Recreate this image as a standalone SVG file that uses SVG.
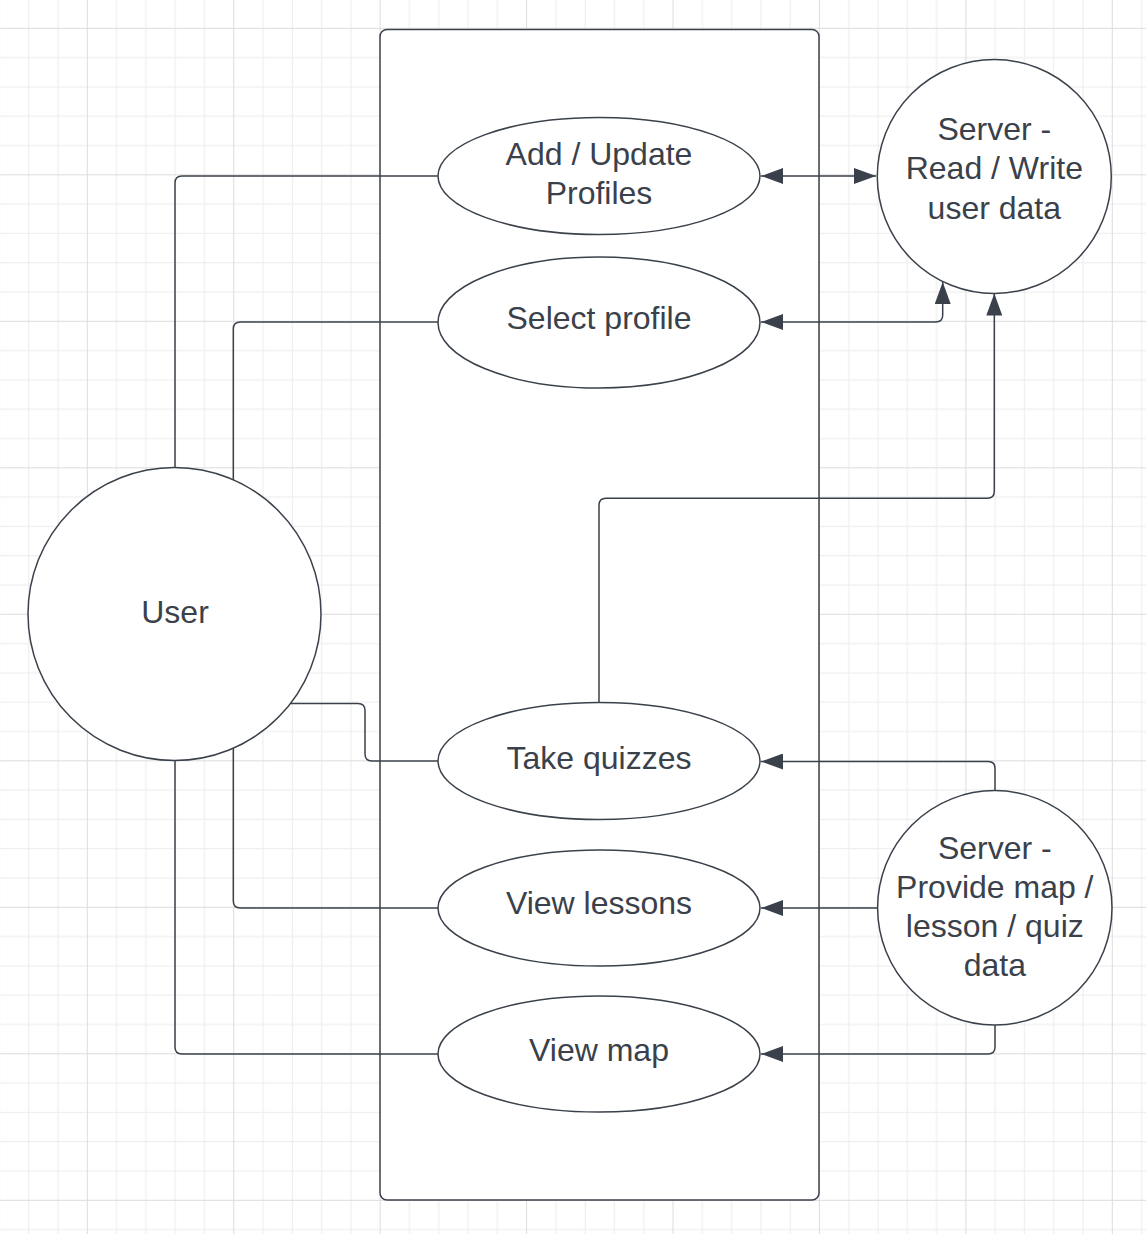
<svg xmlns="http://www.w3.org/2000/svg" width="1146" height="1234" viewBox="0 0 1146 1234">
<defs>
<pattern id="grid" patternUnits="userSpaceOnUse" x="86.8" y="27.8" width="146.43" height="146.5">
<rect x="29.29" y="0" width="1" height="146.5" fill="#ececec"/>
<rect x="58.57" y="0" width="1" height="146.5" fill="#ececec"/>
<rect x="87.86" y="0" width="1" height="146.5" fill="#ececec"/>
<rect x="117.14" y="0" width="1" height="146.5" fill="#ececec"/>
<rect x="0" y="29.3" width="146.43" height="1" fill="#ececec"/>
<rect x="0" y="58.6" width="146.43" height="1" fill="#ececec"/>
<rect x="0" y="87.9" width="146.43" height="1" fill="#ececec"/>
<rect x="0" y="117.2" width="146.43" height="1" fill="#ececec"/>
<rect x="0" y="0" width="1" height="146.5" fill="#dcdcdc"/>
<rect x="0" y="0" width="146.43" height="1" fill="#dcdcdc"/>
</pattern>
<marker id="arr" viewBox="0 0 22 16" refX="22" refY="8" markerWidth="22" markerHeight="16" markerUnits="userSpaceOnUse" orient="auto-start-reverse">
<path d="M0,0 L22,8 L0,16 z" fill="#3a414a"/>
</marker>
<style>
.shape{fill:#ffffff;stroke:#3a414a;stroke-width:1.5}
.conn{fill:none;stroke:#3a414a;stroke-width:1.5}
.lbl{font-family:"Liberation Sans",Arial,sans-serif;font-size:32px;fill:#3a414a;text-anchor:middle}
</style>
</defs>
<rect x="0" y="0" width="1146" height="1234" fill="#ffffff"/>
<rect x="0" y="0" width="1146" height="1234" fill="url(#grid)"/>

<g id="system-boundary">
<rect class="shape" x="380" y="29.5" width="439" height="1170.5" rx="7" ry="7" stroke-width="1.7"/>
</g>

<g id="connectors">
<path class="conn" d="M175,468 L175,183 Q175,176 182,176 L438,176"/>
<path class="conn" d="M233.3,480 L233.3,329 Q233.3,322 240.3,322 L438,322"/>
<path class="conn" d="M290.6,703.5 L358,703.5 Q365,703.5 365,710.5 L365,754 Q365,761 372,761 L438,761"/>
<path class="conn" d="M233.3,748.5 L233.3,901 Q233.3,908 240.3,908 L438,908"/>
<path class="conn" d="M175,760.5 L175,1047 Q175,1054 182,1054 L438,1054"/>
<path class="conn" d="M761,176 L876,176" marker-start="url(#arr)" marker-end="url(#arr)"/>
<path class="conn" d="M761,322 L935.7,322 Q942.7,322 942.7,315 L942.7,282" marker-start="url(#arr)" marker-end="url(#arr)"/>
<path class="conn" d="M599,702.5 L599,505.3 Q599,498.3 606,498.3 L987.3,498.3 Q994.3,498.3 994.3,491.3 L994.3,293.5" marker-end="url(#arr)"/>
<path class="conn" d="M995,790.5 L995,768.5 Q995,761.5 988,761.5 L761,761.5" marker-end="url(#arr)"/>
<path class="conn" d="M877.3,908 L761,908" marker-end="url(#arr)"/>
<path class="conn" d="M995,1025 L995,1047 Q995,1054 988,1054 L761,1054" marker-end="url(#arr)"/>
</g>

<g id="user">
<circle class="shape" cx="174.5" cy="614" r="146.5"/>
<text class="lbl" x="175" y="622.5">User</text>
</g>

<g id="add-update-profiles">
<ellipse class="shape" cx="599" cy="176" rx="161" ry="58.5"/>
<text class="lbl" x="599" y="164.5">Add / Update</text>
<text class="lbl" x="599" y="203.5">Profiles</text>
</g>

<g id="select-profile">
<ellipse class="shape" cx="599" cy="322.5" rx="161" ry="65.5"/>
<text class="lbl" x="599" y="328.5">Select profile</text>
</g>

<g id="take-quizzes">
<ellipse class="shape" cx="599" cy="761" rx="161" ry="58.5"/>
<text class="lbl" x="599" y="768.5">Take quizzes</text>
</g>

<g id="view-lessons">
<ellipse class="shape" cx="599" cy="908" rx="161" ry="58"/>
<text class="lbl" x="599" y="914">View lessons</text>
</g>

<g id="view-map">
<ellipse class="shape" cx="599" cy="1054" rx="161" ry="58"/>
<text class="lbl" x="599" y="1061">View map</text>
</g>

<g id="server-read-write">
<circle class="shape" cx="994.3" cy="176.5" r="117"/>
<text class="lbl" x="994.3" y="139.5">Server -</text>
<text class="lbl" x="994.3" y="179">Read / Write</text>
<text class="lbl" x="994.3" y="218.5">user data</text>
</g>

<g id="server-provide-data">
<circle class="shape" cx="994.8" cy="907.8" r="117.2"/>
<text class="lbl" x="994.8" y="858.5">Server -</text>
<text class="lbl" x="994.8" y="897.5">Provide map /</text>
<text class="lbl" x="994.8" y="936.5">lesson / quiz</text>
<text class="lbl" x="994.8" y="975.5">data</text>
</g>
</svg>
